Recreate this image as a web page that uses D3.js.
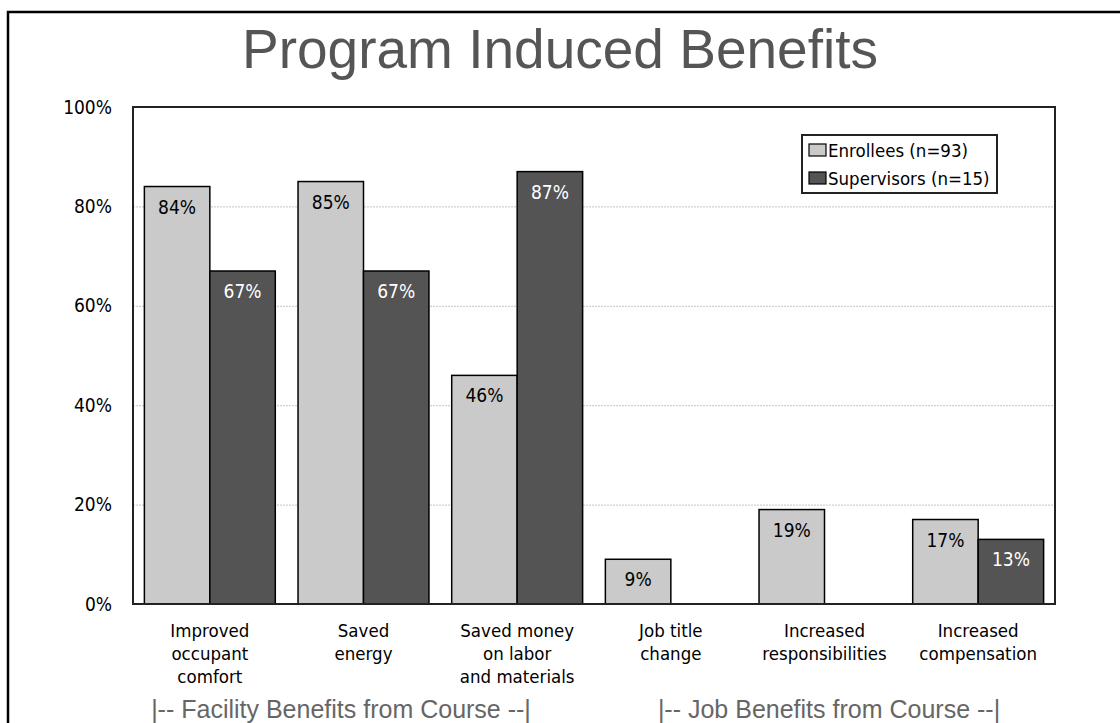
<!DOCTYPE html>
<html>
<head>
<meta charset="utf-8">
<script src="https://cdn.jsdelivr.net/npm/d3@7"></script>
<style>
  html, body { margin: 0; padding: 0; background: #fff; }
  svg { display: block; }
</style>
</head>
<body>
<svg id="chart" width="1120" height="723"></svg>
<script>
// ---- data ----
const categories = [
  "Improved\noccupant\ncomfort",
  "Saved\nenergy",
  "Saved money\non labor\nand materials",
  "Job title\nchange",
  "Increased\nresponsibilities",
  "Increased\ncompensation"
];
const seriesNames = ["Enrollees (n=93)", "Supervisors (n=15)"];
const enrollees   = [84, 85, 46, 9, 19, 17];
const supervisors = [67, 67, 87, null, null, 13];
const yTicks = [0, 20, 40, 60, 80, 100];
const titleText = "Program Induced Benefits";
const groupNotes = ["|-- Facility Benefits from Course --|", "|-- Job Benefits from Course --|"];

// ---- layout ----
const W = 1120, H = 723;
const plot = { left: 133, right: 1055, top: 107, bottom: 604 };
const fillColors = ["#cacaca", "#545454"];
const labelColors = ["#000", "#fff"];
const font = "'DejaVu Sans Condensed', 'DejaVu Sans', sans-serif";

const svg = d3.select("#chart");

// outer frame
svg.append("rect")
  .attr("x", 8).attr("y", 12)
  .attr("width", W + 20).attr("height", H + 20)
  .attr("fill", "none").attr("stroke", "#000").attr("stroke-width", 2.5);

// title
svg.append("text")
  .attr("x", 560).attr("y", 68)
  .attr("text-anchor", "middle")
  .attr("font-family", "'Liberation Sans', Arial, sans-serif")
  .attr("font-size", 55)
  .attr("fill", "#555")
  .text(titleText);

// scales
const y = d3.scaleLinear().domain([0, 100]).range([plot.bottom, plot.top]);
const x0 = d3.scaleBand().domain(categories)
  .range([plot.left, plot.right]).paddingInner(0.148).paddingOuter(0.074);
const x1 = d3.scaleBand().domain(seriesNames).range([0, x0.bandwidth()]);

// gridlines
const grid = svg.append("g")
  .attr("transform", `translate(${plot.left},0)`)
  .call(d3.axisLeft(y).tickValues(yTicks.filter(t => t > 0 && t < 100))
    .tickSize(-(plot.right - plot.left)).tickFormat(""));
grid.select(".domain").remove();
grid.selectAll("line").attr("stroke", "#c4c4c4").attr("stroke-width", 1)
  .attr("stroke-dasharray", "2,1");

// y axis labels
const yAxis = svg.append("g")
  .attr("transform", `translate(${plot.left},0)`)
  .call(d3.axisLeft(y).tickValues(yTicks).tickSize(0).tickPadding(21)
    .tickFormat(d => d + "%"));
yAxis.select(".domain").remove();
yAxis.selectAll("text")
  .attr("font-family", font).attr("font-size", 19).attr("fill", "#000");

// bars
const rows = categories.map((c, i) => ({ cat: c, vals: [enrollees[i], supervisors[i]] }));
const groups = svg.append("g").selectAll("g").data(rows).join("g")
  .attr("transform", d => `translate(${x0(d.cat)},0)`);

groups.each(function(d) {
  const g = d3.select(this);
  d.vals.forEach((v, si) => {
    if (v == null) return;
    g.append("rect")
      .attr("x", x1(seriesNames[si]))
      .attr("y", y(v))
      .attr("width", x1.bandwidth())
      .attr("height", y(0) - y(v))
      .attr("fill", fillColors[si])
      .attr("stroke", "#000").attr("stroke-width", 1.5);
    g.append("text")
      .attr("x", x1(seriesNames[si]) + x1.bandwidth() / 2)
      .attr("y", y(v) + 27)
      .attr("text-anchor", "middle")
      .attr("font-family", font).attr("font-size", 19)
      .attr("fill", labelColors[si])
      .text(v + "%");
  });
});

// plot frame
svg.append("rect")
  .attr("x", plot.left).attr("y", plot.top)
  .attr("width", plot.right - plot.left).attr("height", plot.bottom - plot.top)
  .attr("fill", "none").attr("stroke", "#222").attr("stroke-width", 2);

// category labels
const xAxis = svg.append("g")
  .attr("transform", `translate(0,${plot.bottom})`)
  .call(d3.axisBottom(x0).tickSize(0).tickFormat(""));
xAxis.select(".domain").remove();
xAxis.selectAll(".tick").each(function(d) {
  const t = d3.select(this).append("text")
    .attr("text-anchor", "middle")
    .attr("font-family", font).attr("font-size", 18.5).attr("fill", "#000");
  d.split("\n").forEach((line, li) => {
    t.append("tspan").attr("x", 0).attr("y", 33 + li * 22.8).text(line);
  });
});

// legend
const lg = svg.append("g");
lg.append("rect")
  .attr("x", 802).attr("y", 135).attr("width", 195).attr("height", 58)
  .attr("fill", "#fff").attr("stroke", "#222").attr("stroke-width", 2);
seriesNames.forEach((s, i) => {
  lg.append("rect")
    .attr("x", 809).attr("y", 144 + i * 28).attr("width", 17).attr("height", 12)
    .attr("fill", fillColors[i]).attr("stroke", "#000").attr("stroke-width", 1.2);
  lg.append("text")
    .attr("x", 828).attr("y", 157 + i * 28)
    .attr("font-family", font).attr("font-size", 18.5).attr("fill", "#000")
    .text(s);
});

// group notes
const noteX = [341, 829];
groupNotes.forEach((n, i) => {
  svg.append("text")
    .attr("x", noteX[i]).attr("y", 718)
    .attr("text-anchor", "middle")
    .attr("font-family", "'Liberation Sans', Arial, sans-serif")
    .attr("font-size", 25).attr("fill", "#666")
    .text(n);
});
</script>
</body>
</html>
